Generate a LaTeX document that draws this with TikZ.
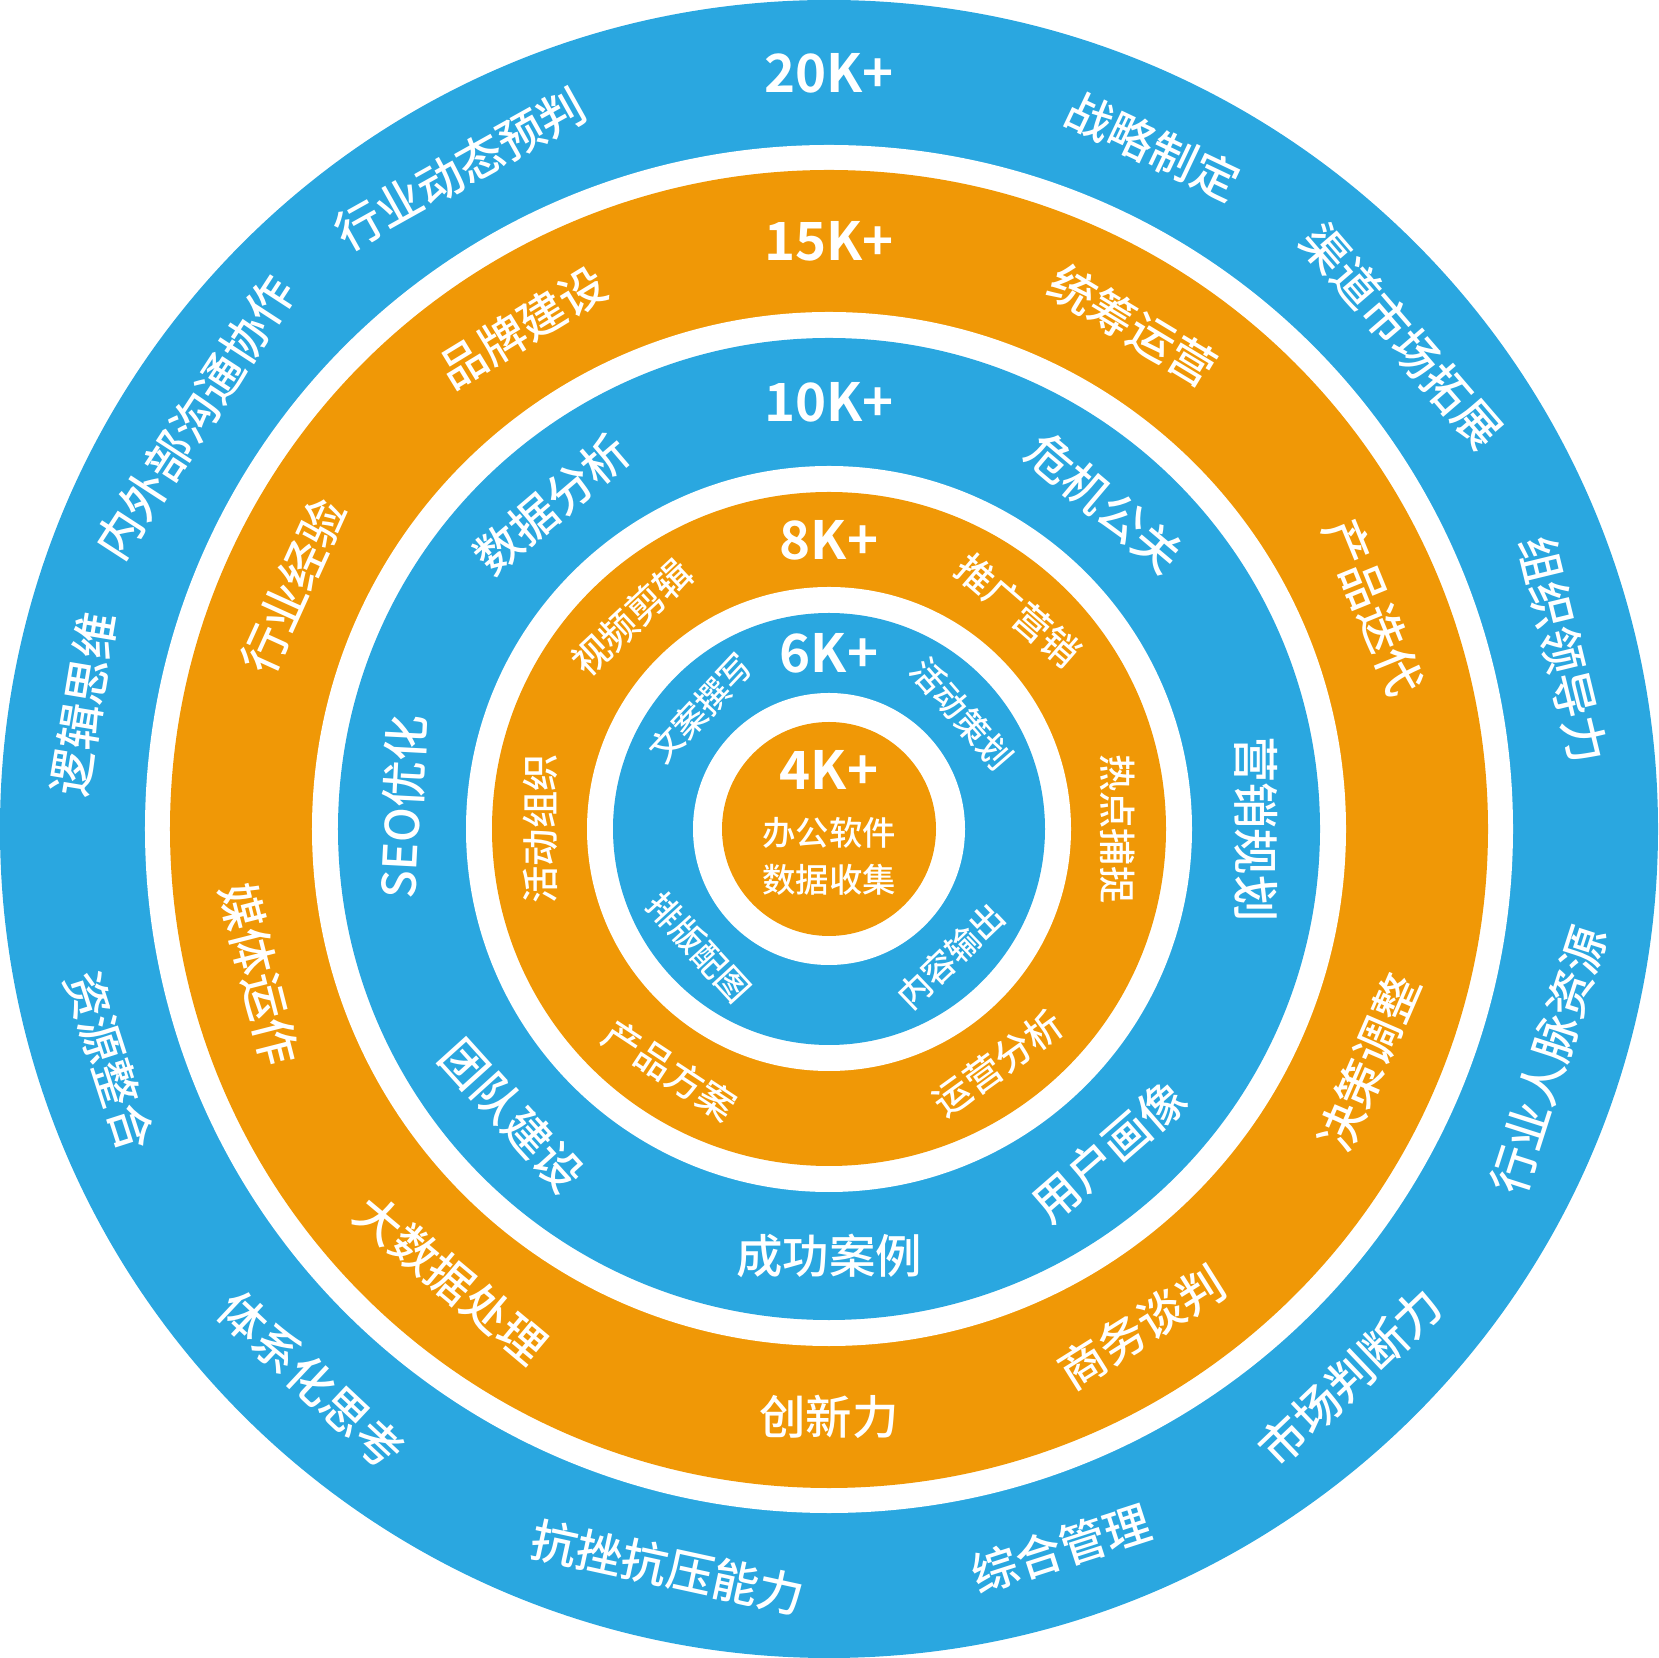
\documentclass[tikz,border=0pt]{standalone}
\usepackage{fontspec}
\newfontfamily\cjk{Noto Sans CJK SC Medium}
\newfontfamily\cjknum{Noto Sans CJK SC Bold}
\usetikzlibrary{calc}
\definecolor{ringblue}{RGB}{42,167,224}
\definecolor{ringorange}{RGB}{240,152,6}

\begin{document}
\begin{tikzpicture}[
    ringtext/.style={text=white, inner sep=0pt, font=\cjk\fontsize{13.2}{14}\selectfont},
    midtext/.style={ringtext, font=\cjk\fontsize{10.6}{11}\selectfont},
    smalltext/.style={ringtext, font=\cjk\fontsize{9.5}{10}\selectfont},
    salary/.style={ringtext, font=\cjknum\fontsize{15}{16}\selectfont}
]

    % Radios de los anillos
    \def\Rone{8.29}
    \def\Rtwo{6.84}
    \def\Rthree{6.59}
    \def\Rfour{5.17}
    \def\Rfive{4.91}
    \def\Rsix{3.63}
    \def\Rseven{3.37}
    \def\Reight{2.42}
    \def\Rnine{2.16}
    \def\Rten{1.36}
    \def\Releven{1.07}

    % Radios de las etiquetas
    \def\Tone{7.56}
    \def\Ttwo{5.88}
    \def\Tthree{4.27}
    \def\Tfour{2.89}
    \def\Tfive{1.76}

    \coordinate (O) at (0,0);
    \useasboundingbox (-\Rone,-\Rone) rectangle (\Rone,\Rone);

    % Anillos
    \fill[ringblue] (O) circle (\Rone);
    \fill[white] (O) circle (\Rtwo);
    \fill[ringorange] (O) circle (\Rthree);
    \fill[white] (O) circle (\Rfour);
    \fill[ringblue] (O) circle (\Rfive);
    \fill[white] (O) circle (\Rsix);
    \fill[ringorange] (O) circle (\Rseven);
    \fill[white] (O) circle (\Reight);
    \fill[ringblue] (O) circle (\Rnine);
    \fill[white] (O) circle (\Rten);
    \fill[ringorange] (O) circle (\Releven);

    % Anillo exterior (20K+)
    \node[salary] (A1) at (90:\Tone) {20K+};
    \node[ringtext, rotate=-25.4] (A2) at (64.6:\Tone) {战略制定};
    \node[ringtext, rotate=-49.3] (A3) at (40.7:\Tone) {渠道市场拓展};
    \node[ringtext, rotate=-76.3] (A4) at (13.7:\Tone) {组织领导力};
    \node[ringtext, rotate=72.2] (A5) at (-17.8:\Tone) {行业人脉资源};
    \node[ringtext, rotate=43.6] (A6) at (-46.4:\Tone) {市场判断力};
    \node[ringtext, rotate=17.9] (A7) at (-72.1:\Tone) {综合管理};
    \node[ringtext, rotate=-12.3] (A8) at (-102.3:\Tone) {抗挫抗压能力};
    \node[ringtext, rotate=-43.2] (A9) at (-133.2:\Tone) {体系化思考};
    \node[ringtext, rotate=-72.1] (A10) at (-162.1:\Tone) {资源整合};
    \node[ringtext, rotate=80.5] (A11) at (170.5:\Tone) {逻辑思维};
    \node[ringtext, rotate=57] (A12) at (147:\Tone) {内外部沟通协作};
    \node[ringtext, rotate=29.2] (A13) at (119.2:\Tone) {行业动态预判};

    % Anillo 15K+
    \node[salary] (B1) at (90:\Ttwo) {15K+};
    \node[ringtext, rotate=-31.1] (B2) at (58.9:\Ttwo) {统筹运营};
    \node[ringtext, rotate=-67.8] (B3) at (22.2:\Ttwo) {产品迭代};
    \node[ringtext, rotate=66.6] (B4) at (-23.4:\Ttwo) {决策调整};
    \node[ringtext, rotate=32.1] (B5) at (-57.9:\Ttwo) {商务谈判};
    \node[ringtext] (B6) at (-90:\Ttwo) {创新力};
    \node[ringtext, rotate=-40] (B7) at (-130:\Ttwo) {大数据处理};
    \node[ringtext, rotate=-75.7] (B8) at (-165.7:\Ttwo) {媒体运作};
    \node[ringtext, rotate=65.6] (B9) at (155.6:\Ttwo) {行业经验};
    \node[ringtext, rotate=31.4] (B10) at (121.4:\Ttwo) {品牌建设};

    % Anillo 10K+
    \node[salary] (C1) at (90:\Tthree) {10K+};
    \node[ringtext, rotate=-40.2] (C2) at (49.8:\Tthree) {危机公关};
    \node[ringtext, rotate=-90] (C3) at (0:\Tthree) {营销规划};
    \node[ringtext, rotate=41] (C4) at (-49:\Tthree) {用户画像};
    \node[ringtext] (C5) at (-90:\Tthree) {成功案例};
    \node[ringtext, rotate=-47.9] (C6) at (-137.9:\Tthree) {团队建设};
    \node[ringtext, rotate=87] (C7) at (177:\Tthree) {SEO优化};
    \node[ringtext, rotate=40.5] (C8) at (130.5:\Tthree) {数据分析};

    % Anillo 8K+
    \node[salary] (D1) at (90:\Tfour) {8K+};
    \node[midtext, rotate=-40.9] (D2) at (49.1:\Tfour) {推广营销};
    \node[midtext, rotate=-90] (D3) at (0:\Tfour) {热点捕捉};
    \node[midtext, rotate=35.8] (D4) at (-54.2:\Tfour) {运营分析};
    \node[midtext, rotate=-33.4] (D5) at (-123.4:\Tfour) {产品方案};
    \node[midtext, rotate=90] (D6) at (180:\Tfour) {活动组织};
    \node[midtext, rotate=43] (D7) at (133:\Tfour) {视频剪辑};

    % Anillo 6K+
    \node[salary] (E1) at (90:\Tfive) {6K+};
    \node[smalltext, rotate=-49.1] (E2) at (40.9:\Tfive) {活动策划};
    \node[smalltext, rotate=43.7] (E3) at (-46.3:\Tfive) {内容输出};
    \node[smalltext, rotate=-47.6] (E4) at (-137.6:\Tfive) {排版配图};
    \node[smalltext, rotate=46.8] (E5) at (136.8:\Tfive) {文案撰写};

    % Centro 4K+
    \node[salary] (F1) at (0,0.59) {4K+};
    \node[smalltext] (F2) at (0,-0.04) {办公软件};
    \node[smalltext] (F3) at (0,-0.51) {数据收集};

\end{tikzpicture}
\end{document}
